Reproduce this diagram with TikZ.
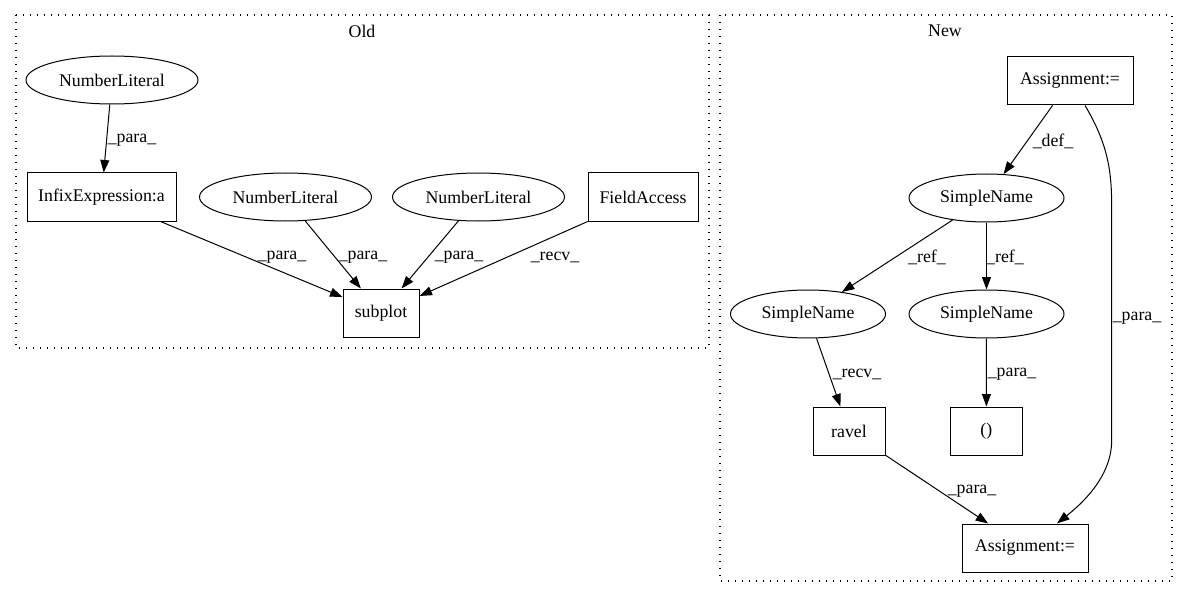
\documentclass[tikz,border=0pt]{standalone}
\usepackage{fontspec}
\setmainfont{Liberation Serif}
\usetikzlibrary{shapes.geometric,arrows.meta}
\begin{document}
\begin{tikzpicture}[x=1pt,y=1pt,
  every node/.style={font=\fontsize{17.8}{21}\selectfont},
  boxnode/.style={draw,line width=1pt,rectangle,inner sep=0pt,minimum height=48pt},
  ellnode/.style={draw,line width=1pt,ellipse,inner sep=0pt,minimum height=48pt},
  edge/.style={line width=1pt,-{Triangle[length=12.5pt,width=9pt]}},
  lbl/.style={inner sep=0pt},
  cluster/.style={line width=1.3pt,dash pattern=on 1.4pt off 5.6pt}]
\useasboundingbox (0,0) rectangle (1188,-596);
% clusters
\draw[cluster] (16,-15) rectangle (709,-348);
\draw[cluster] (720,-15) rectangle (1172,-581);
\node (told) at (362,-31) {Old};
\node (tnew) at (945,-31) {New};
% Old nodes
\node[ellnode,minimum width=172pt] (nl1) at (112,-80) {NumberLiteral};
\node[boxnode,minimum width=149pt] (infix) at (101.5,-197) {InfixExpression:a};
\node[ellnode,minimum width=172pt] (nl2) at (285.5,-197) {NumberLiteral};
\node[ellnode,minimum width=172pt] (nl3) at (478.5,-197) {NumberLiteral};
\node[boxnode,minimum width=110pt] (fa) at (643,-197) {FieldAccess};
\node[boxnode,minimum width=76pt] (subplot) at (381,-313) {subplot};
% New nodes
\node[boxnode,minimum width=126pt] (a1) at (1070,-81) {Assignment:=};
\node[ellnode,minimum width=155pt] (sn1) at (986.5,-198) {SimpleName};
\node[ellnode,minimum width=155pt] (sn2) at (808,-314) {SimpleName};
\node[ellnode,minimum width=155pt] (sn3) at (986.5,-314) {SimpleName};
\node[boxnode,minimum width=72pt] (ravel) at (849,-431) {ravel};
\node[boxnode,minimum width=72pt] (paren) at (986.4,-431) {()};
\node[boxnode,minimum width=126pt] (a2) at (1025,-548) {Assignment:=};
% Old edges
\draw[edge] (nl1) -- (infix);
\draw[edge] (infix) -- (subplot);
\draw[edge] (nl2) -- (subplot);
\draw[edge] (nl3) -- (subplot);
\draw[edge] (fa) -- (subplot);
\node[lbl] (e1) at (132,-140) {\_para\_};
\node[lbl] (e2) at (282,-257) {\_para\_};
\node[lbl] (e3) at (363,-257) {\_para\_};
\node[lbl] (e4) at (459,-257) {\_para\_};
\node[lbl] (e5) at (555,-257) {\_recv\_};
% New edges
\draw[edge] (a1) -- (sn1);
\draw[edge] ([xshift=15pt]a1.south) .. controls (1111.7,-150) and (1111.7,-180) .. (1111.7,-215) -- (1111.7,-440) .. controls (1111.7,-478) and (1080,-505) .. ([xshift=32pt]a2.north);
\draw[edge] (sn1) -- (sn2);
\draw[edge] (sn1) -- (sn3);
\draw[edge] (sn2) -- (ravel);
\draw[edge] (sn3) -- (paren);
\draw[edge] (ravel) -- (a2);
\node[lbl] (e6) at (1053,-141) {\_def\_};
\node[lbl] (e7) at (1137,-318) {\_para\_};
\node[lbl] (e8) at (927,-257) {\_ref\_};
\node[lbl] (e9) at (1005,-257) {\_ref\_};
\node[lbl] (e10) at (857,-374) {\_recv\_};
\node[lbl] (e11) at (1012,-374) {\_para\_};
\node[lbl] (e12) at (972,-491) {\_para\_};
\end{tikzpicture}
\end{document}
